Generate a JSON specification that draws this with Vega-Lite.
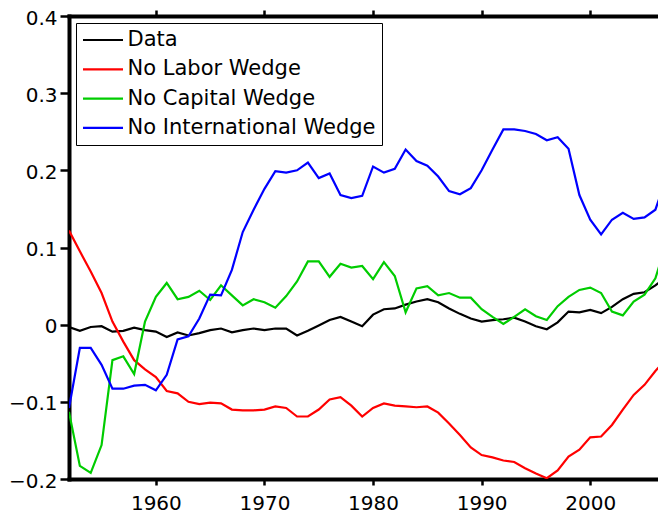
{
  "$schema": "https://vega.github.io/schema/vega-lite/v6.json",
  "autosize": {"type": "none"},
  "padding": {"left": 69, "top": 16, "right": 0, "bottom": 37},
  "width": 589,
  "height": 463,
  "background": "white",
  "config": {"view": {"stroke": null}},
  "data": {"values": [
    {"t":1952,"s":"Data","v":-0.003},{"t":1953,"s":"Data","v":-0.008},{"t":1954,"s":"Data","v":-0.003},{"t":1955,"s":"Data","v":-0.002},{"t":1956,"s":"Data","v":-0.009},{"t":1957,"s":"Data","v":-0.008},{"t":1958,"s":"Data","v":-0.004},{"t":1959,"s":"Data","v":-0.007},{"t":1960,"s":"Data","v":-0.009},{"t":1961,"s":"Data","v":-0.016},{"t":1962,"s":"Data","v":-0.010},{"t":1963,"s":"Data","v":-0.014},{"t":1964,"s":"Data","v":-0.011},{"t":1965,"s":"Data","v":-0.007},{"t":1966,"s":"Data","v":-0.005},{"t":1967,"s":"Data","v":-0.010},{"t":1968,"s":"Data","v":-0.007},{"t":1969,"s":"Data","v":-0.005},{"t":1970,"s":"Data","v":-0.007},{"t":1971,"s":"Data","v":-0.005},{"t":1972,"s":"Data","v":-0.005},{"t":1973,"s":"Data","v":-0.014},{"t":1974,"s":"Data","v":-0.008},{"t":1975,"s":"Data","v":-0.001},{"t":1976,"s":"Data","v":0.006},{"t":1977,"s":"Data","v":0.010},{"t":1978,"s":"Data","v":0.004},{"t":1979,"s":"Data","v":-0.002},{"t":1980,"s":"Data","v":0.013},{"t":1981,"s":"Data","v":0.020},{"t":1982,"s":"Data","v":0.021},{"t":1983,"s":"Data","v":0.026},{"t":1984,"s":"Data","v":0.030},{"t":1985,"s":"Data","v":0.033},{"t":1986,"s":"Data","v":0.029},{"t":1987,"s":"Data","v":0.021},{"t":1988,"s":"Data","v":0.014},{"t":1989,"s":"Data","v":0.008},{"t":1990,"s":"Data","v":0.004},{"t":1991,"s":"Data","v":0.006},{"t":1992,"s":"Data","v":0.007},{"t":1993,"s":"Data","v":0.009},{"t":1994,"s":"Data","v":0.004},{"t":1995,"s":"Data","v":-0.002},{"t":1996,"s":"Data","v":-0.006},{"t":1997,"s":"Data","v":0.003},{"t":1998,"s":"Data","v":0.017},{"t":1999,"s":"Data","v":0.016},{"t":2000,"s":"Data","v":0.019},{"t":2001,"s":"Data","v":0.015},{"t":2002,"s":"Data","v":0.023},{"t":2003,"s":"Data","v":0.033},{"t":2004,"s":"Data","v":0.040},{"t":2005,"s":"Data","v":0.042},{"t":2006,"s":"Data","v":0.051},{"t":2007,"s":"Data","v":0.062},
    {"t":1952,"s":"No Labor Wedge","v":0.122},{"t":1953,"s":"No Labor Wedge","v":0.095},{"t":1954,"s":"No Labor Wedge","v":0.069},{"t":1955,"s":"No Labor Wedge","v":0.041},{"t":1956,"s":"No Labor Wedge","v":0.004},{"t":1957,"s":"No Labor Wedge","v":-0.022},{"t":1958,"s":"No Labor Wedge","v":-0.046},{"t":1959,"s":"No Labor Wedge","v":-0.058},{"t":1960,"s":"No Labor Wedge","v":-0.068},{"t":1961,"s":"No Labor Wedge","v":-0.086},{"t":1962,"s":"No Labor Wedge","v":-0.089},{"t":1963,"s":"No Labor Wedge","v":-0.100},{"t":1964,"s":"No Labor Wedge","v":-0.103},{"t":1965,"s":"No Labor Wedge","v":-0.101},{"t":1966,"s":"No Labor Wedge","v":-0.102},{"t":1967,"s":"No Labor Wedge","v":-0.110},{"t":1968,"s":"No Labor Wedge","v":-0.111},{"t":1969,"s":"No Labor Wedge","v":-0.111},{"t":1970,"s":"No Labor Wedge","v":-0.110},{"t":1971,"s":"No Labor Wedge","v":-0.106},{"t":1972,"s":"No Labor Wedge","v":-0.108},{"t":1973,"s":"No Labor Wedge","v":-0.119},{"t":1974,"s":"No Labor Wedge","v":-0.119},{"t":1975,"s":"No Labor Wedge","v":-0.110},{"t":1976,"s":"No Labor Wedge","v":-0.097},{"t":1977,"s":"No Labor Wedge","v":-0.094},{"t":1978,"s":"No Labor Wedge","v":-0.105},{"t":1979,"s":"No Labor Wedge","v":-0.119},{"t":1980,"s":"No Labor Wedge","v":-0.108},{"t":1981,"s":"No Labor Wedge","v":-0.102},{"t":1982,"s":"No Labor Wedge","v":-0.105},{"t":1983,"s":"No Labor Wedge","v":-0.106},{"t":1984,"s":"No Labor Wedge","v":-0.107},{"t":1985,"s":"No Labor Wedge","v":-0.106},{"t":1986,"s":"No Labor Wedge","v":-0.114},{"t":1987,"s":"No Labor Wedge","v":-0.128},{"t":1988,"s":"No Labor Wedge","v":-0.143},{"t":1989,"s":"No Labor Wedge","v":-0.159},{"t":1990,"s":"No Labor Wedge","v":-0.169},{"t":1991,"s":"No Labor Wedge","v":-0.172},{"t":1992,"s":"No Labor Wedge","v":-0.176},{"t":1993,"s":"No Labor Wedge","v":-0.178},{"t":1994,"s":"No Labor Wedge","v":-0.186},{"t":1995,"s":"No Labor Wedge","v":-0.193},{"t":1996,"s":"No Labor Wedge","v":-0.199},{"t":1997,"s":"No Labor Wedge","v":-0.189},{"t":1998,"s":"No Labor Wedge","v":-0.171},{"t":1999,"s":"No Labor Wedge","v":-0.162},{"t":2000,"s":"No Labor Wedge","v":-0.146},{"t":2001,"s":"No Labor Wedge","v":-0.145},{"t":2002,"s":"No Labor Wedge","v":-0.130},{"t":2003,"s":"No Labor Wedge","v":-0.110},{"t":2004,"s":"No Labor Wedge","v":-0.091},{"t":2005,"s":"No Labor Wedge","v":-0.078},{"t":2006,"s":"No Labor Wedge","v":-0.060},{"t":2007,"s":"No Labor Wedge","v":-0.045},
    {"t":1952,"s":"No Capital Wedge","v":-0.113},{"t":1953,"s":"No Capital Wedge","v":-0.183},{"t":1954,"s":"No Capital Wedge","v":-0.192},{"t":1955,"s":"No Capital Wedge","v":-0.156},{"t":1956,"s":"No Capital Wedge","v":-0.046},{"t":1957,"s":"No Capital Wedge","v":-0.041},{"t":1958,"s":"No Capital Wedge","v":-0.064},{"t":1959,"s":"No Capital Wedge","v":0.004},{"t":1960,"s":"No Capital Wedge","v":0.036},{"t":1961,"s":"No Capital Wedge","v":0.054},{"t":1962,"s":"No Capital Wedge","v":0.033},{"t":1963,"s":"No Capital Wedge","v":0.036},{"t":1964,"s":"No Capital Wedge","v":0.044},{"t":1965,"s":"No Capital Wedge","v":0.032},{"t":1966,"s":"No Capital Wedge","v":0.051},{"t":1967,"s":"No Capital Wedge","v":0.038},{"t":1968,"s":"No Capital Wedge","v":0.025},{"t":1969,"s":"No Capital Wedge","v":0.033},{"t":1970,"s":"No Capital Wedge","v":0.029},{"t":1971,"s":"No Capital Wedge","v":0.022},{"t":1972,"s":"No Capital Wedge","v":0.037},{"t":1973,"s":"No Capital Wedge","v":0.056},{"t":1974,"s":"No Capital Wedge","v":0.082},{"t":1975,"s":"No Capital Wedge","v":0.082},{"t":1976,"s":"No Capital Wedge","v":0.062},{"t":1977,"s":"No Capital Wedge","v":0.079},{"t":1978,"s":"No Capital Wedge","v":0.074},{"t":1979,"s":"No Capital Wedge","v":0.076},{"t":1980,"s":"No Capital Wedge","v":0.059},{"t":1981,"s":"No Capital Wedge","v":0.081},{"t":1982,"s":"No Capital Wedge","v":0.063},{"t":1983,"s":"No Capital Wedge","v":0.016},{"t":1984,"s":"No Capital Wedge","v":0.047},{"t":1985,"s":"No Capital Wedge","v":0.050},{"t":1986,"s":"No Capital Wedge","v":0.038},{"t":1987,"s":"No Capital Wedge","v":0.041},{"t":1988,"s":"No Capital Wedge","v":0.035},{"t":1989,"s":"No Capital Wedge","v":0.035},{"t":1990,"s":"No Capital Wedge","v":0.020},{"t":1991,"s":"No Capital Wedge","v":0.010},{"t":1992,"s":"No Capital Wedge","v":0.001},{"t":1993,"s":"No Capital Wedge","v":0.010},{"t":1994,"s":"No Capital Wedge","v":0.020},{"t":1995,"s":"No Capital Wedge","v":0.011},{"t":1996,"s":"No Capital Wedge","v":0.006},{"t":1997,"s":"No Capital Wedge","v":0.024},{"t":1998,"s":"No Capital Wedge","v":0.036},{"t":1999,"s":"No Capital Wedge","v":0.045},{"t":2000,"s":"No Capital Wedge","v":0.048},{"t":2001,"s":"No Capital Wedge","v":0.041},{"t":2002,"s":"No Capital Wedge","v":0.017},{"t":2003,"s":"No Capital Wedge","v":0.012},{"t":2004,"s":"No Capital Wedge","v":0.030},{"t":2005,"s":"No Capital Wedge","v":0.039},{"t":2006,"s":"No Capital Wedge","v":0.060},{"t":2007,"s":"No Capital Wedge","v":0.105},
    {"t":1952,"s":"No International Wedge","v":-0.108},{"t":1953,"s":"No International Wedge","v":-0.030},{"t":1954,"s":"No International Wedge","v":-0.030},{"t":1955,"s":"No International Wedge","v":-0.052},{"t":1956,"s":"No International Wedge","v":-0.083},{"t":1957,"s":"No International Wedge","v":-0.083},{"t":1958,"s":"No International Wedge","v":-0.079},{"t":1959,"s":"No International Wedge","v":-0.078},{"t":1960,"s":"No International Wedge","v":-0.085},{"t":1961,"s":"No International Wedge","v":-0.065},{"t":1962,"s":"No International Wedge","v":-0.019},{"t":1963,"s":"No International Wedge","v":-0.015},{"t":1964,"s":"No International Wedge","v":0.008},{"t":1965,"s":"No International Wedge","v":0.039},{"t":1966,"s":"No International Wedge","v":0.038},{"t":1967,"s":"No International Wedge","v":0.071},{"t":1968,"s":"No International Wedge","v":0.120},{"t":1969,"s":"No International Wedge","v":0.149},{"t":1970,"s":"No International Wedge","v":0.176},{"t":1971,"s":"No International Wedge","v":0.199},{"t":1972,"s":"No International Wedge","v":0.197},{"t":1973,"s":"No International Wedge","v":0.200},{"t":1974,"s":"No International Wedge","v":0.210},{"t":1975,"s":"No International Wedge","v":0.190},{"t":1976,"s":"No International Wedge","v":0.196},{"t":1977,"s":"No International Wedge","v":0.168},{"t":1978,"s":"No International Wedge","v":0.164},{"t":1979,"s":"No International Wedge","v":0.167},{"t":1980,"s":"No International Wedge","v":0.205},{"t":1981,"s":"No International Wedge","v":0.197},{"t":1982,"s":"No International Wedge","v":0.202},{"t":1983,"s":"No International Wedge","v":0.227},{"t":1984,"s":"No International Wedge","v":0.212},{"t":1985,"s":"No International Wedge","v":0.206},{"t":1986,"s":"No International Wedge","v":0.192},{"t":1987,"s":"No International Wedge","v":0.173},{"t":1988,"s":"No International Wedge","v":0.169},{"t":1989,"s":"No International Wedge","v":0.177},{"t":1990,"s":"No International Wedge","v":0.200},{"t":1991,"s":"No International Wedge","v":0.227},{"t":1992,"s":"No International Wedge","v":0.253},{"t":1993,"s":"No International Wedge","v":0.253},{"t":1994,"s":"No International Wedge","v":0.251},{"t":1995,"s":"No International Wedge","v":0.247},{"t":1996,"s":"No International Wedge","v":0.239},{"t":1997,"s":"No International Wedge","v":0.243},{"t":1998,"s":"No International Wedge","v":0.228},{"t":1999,"s":"No International Wedge","v":0.168},{"t":2000,"s":"No International Wedge","v":0.136},{"t":2001,"s":"No International Wedge","v":0.117},{"t":2002,"s":"No International Wedge","v":0.136},{"t":2003,"s":"No International Wedge","v":0.145},{"t":2004,"s":"No International Wedge","v":0.137},{"t":2005,"s":"No International Wedge","v":0.139},{"t":2006,"s":"No International Wedge","v":0.149},{"t":2007,"s":"No International Wedge","v":0.190}
  ]},
  "layer": [
    {
      "mark": {"type": "line", "clip": true, "strokeWidth": 2.2},
      "encoding": {
        "x": {"field": "t", "type": "quantitative",
          "scale": {"domain": [1952, 2006.24], "nice": false, "zero": false},
          "axis": {"orient": "bottom", "title": null, "values": [1960, 1970, 1980, 1990, 2000], "format": "d",
            "grid": false, "domainColor": "black", "domainWidth": 4, "domainCap": "square",
            "tickColor": "black", "tickWidth": 2.5, "tickSize": 6,
            "labelFont": "DejaVu Sans", "labelFontSize": 20, "labelColor": "black", "labelPadding": 8.5,
            "labelFlush": false, "labelOverlap": false}},
        "y": {"field": "v", "type": "quantitative",
          "scale": {"domain": [-0.2, 0.4], "nice": false, "zero": false},
          "axis": {"orient": "left", "title": null, "values": [-0.2, -0.1, 0, 0.1, 0.2, 0.3, 0.4], "format": "~g",
            "grid": false, "domainColor": "black", "domainWidth": 4, "domainCap": "square",
            "tickColor": "black", "tickWidth": 2.5, "tickSize": 9,
            "labelFont": "DejaVu Sans", "labelFontSize": 20, "labelColor": "black", "labelPadding": 3, "labelOffset": 2,
            "labelFlush": false, "labelOverlap": false}},
        "color": {"field": "s", "type": "nominal",
          "scale": {"domain": ["Data", "No Labor Wedge", "No Capital Wedge", "No International Wedge"],
                    "range": ["#000000", "#ff0000", "#00cc00", "#0000ff"]},
          "legend": {"orient": "none", "legendX": 7, "legendY": 7, "title": null,
            "symbolType": "M-4,0H4", "symbolSize": 100, "symbolStrokeWidth": 2.2, "symbolOffset": 10,
            "labelOffset": 14, "labelFont": "DejaVu Sans", "labelFontSize": 21, "labelColor": "black", "labelLimit": 400,
            "strokeColor": "black", "fillColor": "white", "padding": 6.5, "rowPadding": 7.3, "cornerRadius": 0}}
      }
    },
    {
      "mark": {"type": "line", "strokeOpacity": 0, "clip": true},
      "encoding": {
        "x": {"field": "t", "type": "quantitative",
          "axis": {"orient": "top", "title": null, "values": [1960, 1970, 1980, 1990, 2000], "labels": false,
            "grid": false, "domainColor": "black", "domainWidth": 4, "domainCap": "square",
            "tickColor": "black", "tickWidth": 2.5, "tickSize": 6}},
        "y": {"field": "v", "type": "quantitative", "axis": null},
        "detail": {"field": "s", "type": "nominal"}
      }
    }
  ],
  "resolve": {"axis": {"x": "independent", "y": "independent"}}
}
